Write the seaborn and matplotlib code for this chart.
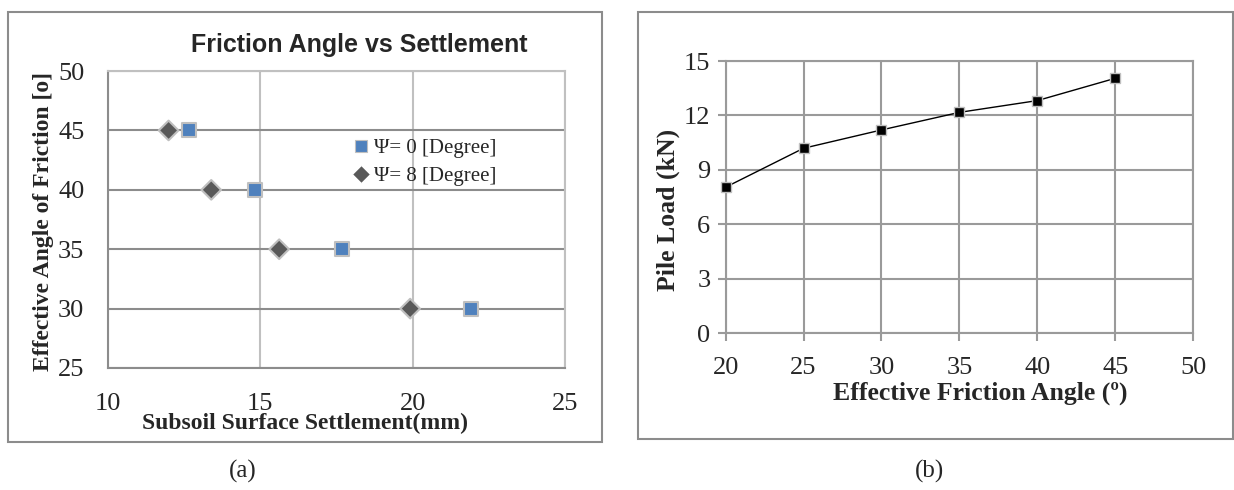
import matplotlib
matplotlib.use('Agg')
import matplotlib.pyplot as plt
import seaborn as sns
import pandas as pd
from matplotlib.patches import Rectangle

# (a) friction angle vs settlement
angle_a = [45, 40, 35, 30]
settle_psi0 = [12.65, 14.82, 17.69, 21.93]
settle_psi8 = [11.99, 13.39, 15.62, 19.92]
series_names = ['\u03a8= 0 [Degree]', '\u03a8= 8 [Degree]']

# (b) pile load vs friction angle
angle_b = [20, 25, 30, 35, 40, 45]
pile_load = [8.04, 10.19, 11.2, 12.17, 12.82, 14.05]

sns.set_style('white')
plt.rcParams['font.family'] = ['Liberation Serif', 'DejaVu Serif']
SERIF = 'Liberation Serif'

df_a = pd.DataFrame({
    'settlement': settle_psi0 + settle_psi8,
    'angle': angle_a + angle_a,
    'series': [series_names[0]] * 4 + [series_names[1]] * 4,
})
df_b = pd.DataFrame({'angle': angle_b, 'load': pile_load})

fig = plt.figure(figsize=(12.34, 4.9), dpi=100)

# outer frames like the excel chart areas
fig.patches.append(Rectangle((0.0065, 0.098), 0.481, 0.877, transform=fig.transFigure,
                             fill=False, edgecolor='#8c8c8c', linewidth=1.5))
fig.patches.append(Rectangle((0.517, 0.104), 0.482, 0.871, transform=fig.transFigure,
                             fill=False, edgecolor='#8c8c8c', linewidth=1.5))

# ---- left chart ----
ax1 = fig.add_axes([0.0875, 0.249, 0.3703, 0.606])
sns.scatterplot(data=df_a, x='settlement', y='angle', hue='series', style='series',
                markers={series_names[0]: 's', series_names[1]: 'D'},
                palette={series_names[0]: '#4f81bd', series_names[1]: '#595959'},
                s=100, ax=ax1, zorder=3)
for coll, ec in zip(ax1.collections, ['#bfbfbf', '#595959']):
    coll.set_edgecolor(ec)
    coll.set_linewidth(1.5)
ax1.set_xlim(10, 25)
ax1.set_ylim(25, 50)
ax1.set_xticks([10, 15, 20, 25])
ax1.set_yticks([25, 30, 35, 40, 45, 50])
ax1.grid(axis='x', color='#c0c0c0', linewidth=1.5)
ax1.grid(axis='y', color='#8c8c8c', linewidth=1.5)
ax1.set_axisbelow(True)
for side in ['top', 'right']:
    ax1.spines[side].set_color('#c0c0c0')
for side in ['left', 'bottom']:
    ax1.spines[side].set_color('#8c8c8c')
for sp in ax1.spines.values():
    sp.set_linewidth(1.5)
ax1.tick_params(axis='both', labelsize=19, length=0, labelfontfamily=SERIF)
ax1.tick_params(axis='x', pad=18)
ax1.tick_params(axis='y', pad=17)
ax1.set_xlabel('Subsoil Surface Settlement(mm)', fontsize=17, fontweight='bold', family=SERIF)
ax1.set_ylabel('Effective Angle of Friction [o]', fontsize=17, fontweight='bold', family=SERIF)
ax1.xaxis.set_label_coords(0.431, -0.151)
ax1.yaxis.set_label_coords(-0.118, 0.492)
ax1.set_title('Friction Angle vs Settlement', fontsize=18, fontweight='bold',
              family='Liberation Sans', pad=14, x=0.55)
leg = ax1.legend(loc='upper left', bbox_to_anchor=(0.509, 0.8), frameon=False,
                 prop={'family': SERIF, 'size': 15}, handletextpad=0.0,
                 labelspacing=0.4, borderaxespad=0, markerscale=0.9, handlelength=1.2)
leg.legend_handles[0].set_markeredgecolor('#bfbfbf')

# ---- right chart ----
ax2 = fig.add_axes([0.588, 0.3204, 0.379, 0.555])
sns.lineplot(data=df_b, x='angle', y='load', color='black', linewidth=1,
             marker='s', markersize=7.5, markeredgecolor='#bfbfbf', markeredgewidth=1,
             clip_on=False, zorder=3, ax=ax2)
ax2.set_xlim(20, 50)
ax2.set_ylim(0, 15)
ax2.set_xticks([20, 25, 30, 35, 40, 45, 50])
ax2.set_yticks([0, 3, 6, 9, 12, 15])
ax2.grid(True, color='#9a9a9a', linewidth=1.5)
ax2.set_axisbelow(True)
for sp in ax2.spines.values():
    sp.set_color('#9a9a9a')
    sp.set_linewidth(1.5)
ax2.tick_params(axis='both', labelsize=19, direction='out', length=6, width=1.5,
                color='#9a9a9a', left=True, bottom=True, labelfontfamily=SERIF)
ax2.tick_params(axis='x', pad=11)
ax2.tick_params(axis='y', pad=5)
ax2.set_xlabel('Effective Friction Angle (\u00ba)', fontsize=18.5, fontweight='bold', family=SERIF)
ax2.set_ylabel('Pile Load (kN)', fontsize=18.5, fontweight='bold', family=SERIF)
ax2.xaxis.set_label_coords(0.544, -0.18)
ax2.yaxis.set_label_coords(-0.098, 0.454)

fig.text(0.197, 0.037, '(a)', fontsize=18, ha='center', va='center', family=SERIF)
fig.text(0.753, 0.037, '(b)', fontsize=18, ha='center', va='center', family=SERIF)

fig.savefig('out.png', dpi=100)
